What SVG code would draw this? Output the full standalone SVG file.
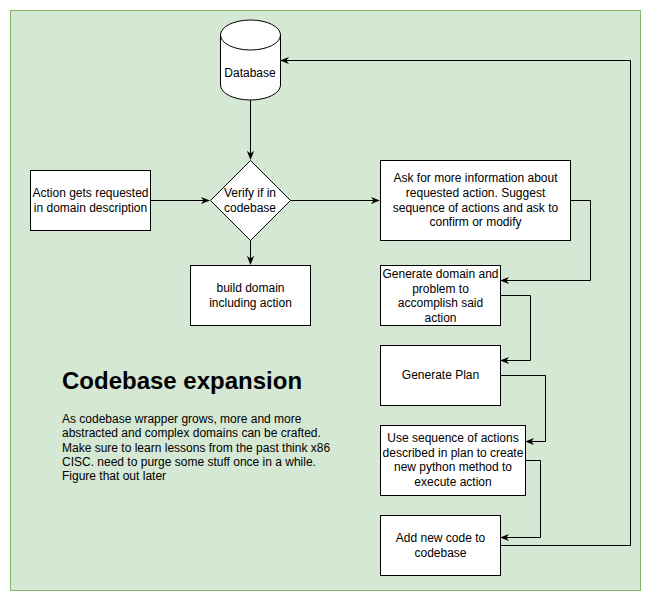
<svg xmlns="http://www.w3.org/2000/svg" width="651" height="601" viewBox="0 0 651 601">
<defs>
<style>
.n{fill:#fff;stroke:#000;stroke-width:1}
.t{font-family:"Liberation Sans",Arial,sans-serif;font-size:12px;fill:#000;text-anchor:middle}
.c{fill:none;stroke:#000;stroke-width:1}
</style>
<marker id="a" viewBox="0 0 10 10" refX="9" refY="5" markerWidth="9" markerHeight="9" markerUnits="userSpaceOnUse" orient="auto">
<path d="M0,1 L10,5 L0,9 L3,5 Z" fill="#000"/>
</marker>
</defs>
<rect x="10.5" y="10.5" width="630" height="580" fill="#d5e8d4" stroke="#82b366"/>
<g id="connectors">
<path class="c" d="M250.5,100 V159" marker-end="url(#a)"/>
<path class="c" d="M150,200.5 H209" marker-end="url(#a)"/>
<path class="c" d="M250.5,240 V264" marker-end="url(#a)"/>
<path class="c" d="M290,200.5 H379" marker-end="url(#a)"/>
<path class="c" d="M570,200.5 H590.5 V280.5 H501" marker-end="url(#a)"/>
<path class="c" d="M500,295.5 H530.5 V360.5 H501" marker-end="url(#a)"/>
<path class="c" d="M500,375.5 H545.5 V441.5 H526" marker-end="url(#a)"/>
<path class="c" d="M525,460.5 H540.5 V537.5 H501" marker-end="url(#a)"/>
<path class="c" d="M500,545.5 H630.5 V60.5 H281" marker-end="url(#a)"/>
</g>
<g id="database">
<path class="n" d="M220.5,35 A30,15 0 0 1 280.5,35 V85 A30,15 0 0 1 220.5,85 Z"/>
<path class="c" d="M220.5,35 A30,15 0 0 0 280.5,35"/>
<text class="t" x="250" y="77">Database</text>
</g>
<g id="verify">
<path class="n" d="M250.5,160.5 L290.5,200.5 L250.5,240.5 L210.5,200.5 Z"/>
<text class="t" x="250" y="197">Verify if in</text>
<text class="t" x="250" y="212">codebase</text>
</g>
<g id="action">
<rect class="n" x="30.5" y="170.5" width="120" height="60"/>
<text class="t" x="90.5" y="197">Action gets requested</text>
<text class="t" x="90.5" y="212">in domain description</text>
</g>
<g id="build">
<rect class="n" x="190.5" y="265.5" width="120" height="60"/>
<text class="t" x="250.5" y="292">build domain</text>
<text class="t" x="250.5" y="307">including action</text>
</g>
<g id="ask">
<rect class="n" x="380.5" y="160.5" width="190" height="80"/>
<text class="t" x="475.5" y="182">Ask for more information about</text>
<text class="t" x="475.5" y="197">requested action. Suggest</text>
<text class="t" x="475.5" y="212">sequence of actions and ask to</text>
<text class="t" x="475.5" y="226">confirm or modify</text>
</g>
<g id="gendomain">
<rect class="n" x="380.5" y="265.5" width="120" height="60"/>
<text class="t" x="440.5" y="278">Generate domain and</text>
<text class="t" x="440.5" y="293">problem to</text>
<text class="t" x="440.5" y="307">accomplish said</text>
<text class="t" x="440.5" y="322">action</text>
</g>
<g id="plan">
<rect class="n" x="380.5" y="345.5" width="120" height="60"/>
<text class="t" x="440.5" y="379">Generate Plan</text>
</g>
<g id="useseq">
<rect class="n" x="380.5" y="425.5" width="145" height="70"/>
<text class="t" x="453" y="442">Use sequence of actions</text>
<text class="t" x="453" y="457">described in plan to create</text>
<text class="t" x="453" y="471">new python method to</text>
<text class="t" x="453" y="486">execute action</text>
</g>
<g id="addcode">
<rect class="n" x="380.5" y="515.5" width="120" height="60"/>
<text class="t" x="440.5" y="542">Add new code to</text>
<text class="t" x="440.5" y="557">codebase</text>
</g>
<g id="notes">
<text x="62" y="389" font-family="'Liberation Sans',Arial,sans-serif" font-size="24" font-weight="bold" fill="#000">Codebase expansion</text>
<g font-family="'Liberation Sans',Arial,sans-serif" font-size="12" fill="#000">
<text x="62" y="423">As codebase wrapper grows, more and more</text>
<text x="62" y="437">abstracted and complex domains can be crafted.</text>
<text x="62" y="452">Make sure to learn lessons from the past think x86</text>
<text x="62" y="466">CISC. need to purge some stuff once in a while.</text>
<text x="62" y="480">Figure that out later</text>
</g>
</g>
</svg>
